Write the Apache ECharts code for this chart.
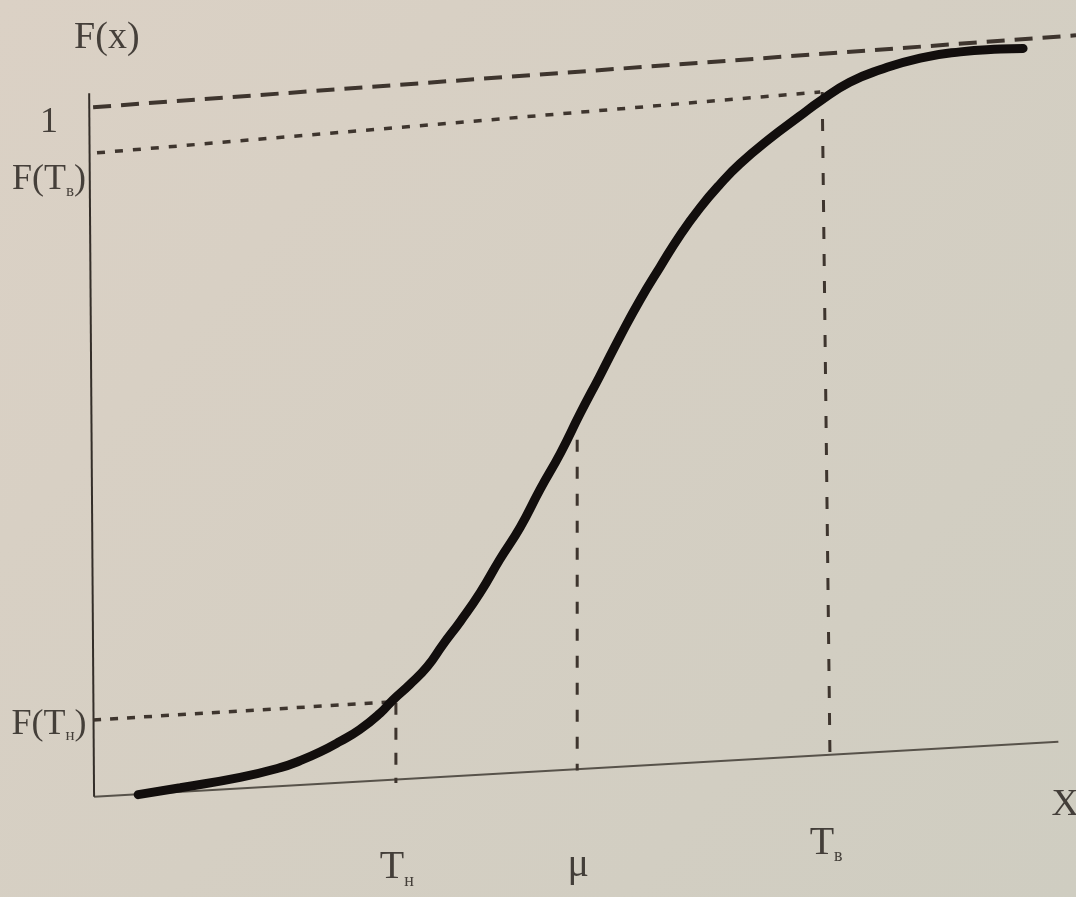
<!DOCTYPE html>
<html>
<head>
<meta charset="utf-8">
<script src="https://cdn.jsdelivr.net/npm/echarts@6/dist/echarts.min.js"></script>
<style>
  html, body { margin: 0; padding: 0; }
  #chart { width: 1076px; height: 897px; }
</style>
</head>
<body>
<div id="chart"></div>
<script>
// S-shaped distribution function F(x), read off a photo of a textbook page
// (the page is a little skewed in the photo, so the axes are not level)
var curveX = [4.5, 8.8, 14.9, 19.0, 21.0, 23.1, 25.1, 27.1, 29.2, 30.5, 32.2, 34.0, 35.6, 37.4, 39.4, 41.4, 43.5,
              45.5, 47.6, 49.6, 51.6, 53.7, 55.7, 57.8, 59.8, 61.8, 63.9, 65.9, 69.0, 72.0, 74.1, 77.1, 80.2,
              84.3, 88.4, 92.5, 94.8];
var curveY = [0.003, 0.013, 0.028, 0.042, 0.052, 0.065, 0.080, 0.097, 0.121, 0.140, 0.162, 0.188, 0.220, 0.254, 0.295, 0.343, 0.390,
              0.444, 0.497, 0.554, 0.608, 0.666, 0.718, 0.767, 0.812, 0.851, 0.886, 0.915, 0.952, 0.984, 1.006, 1.033, 1.051,
              1.068, 1.077, 1.081, 1.082];

// axes (as drawn on the page)
var xAxisLine = [[0, 0], [98.4, 0.0795]];
var yAxisLine = [[0, 0], [-0.5, 1.017]];

// guide lines
var levelOne = [[-0.1, 0.997], [100.2, 1.101]];   // F = 1
var levelUpper = [[0.3, 0.931], [74.1, 1.019]];   // F(Tв)
var levelLower = [[-0.1, 0.111], [30.2, 0.137]];  // F(Tн)
var dropLower = [[30.8, 0.136], [30.8, 0.020]];   // Tн
var dropMean = [[49.3, 0.516], [49.3, 0.038]];    // μ
var dropUpper = [[74.3, 1.019], [75.1, 0.051]];   // Tв

// tick labels
var xTickNames = ['{a|T}{s|н}', '{a|μ}', '{a|T}{s|в}'];
var xTickValues = [30.9, 49.4, 74.7];
var yTickNames = ['{a|1}', '{a|F(T}{s|в}{a|)}', '{a|F(T}{s|н}{a|)}'];
var yTickValues = [0.975, 0.892, 0.105];

var axisSlope = xAxisLine[1][1] / xAxisLine[1][0];

var myChart = echarts.init(document.getElementById('chart'));

var ink = '#1f1a16';
var serif = '"Liberation Serif", "Times New Roman", serif';

function guide(data, dash, width) {
  return {
    type: 'line', data: data, symbol: 'none', silent: true,
    lineStyle: { color: '#3e352e', width: width, type: dash }
  };
}

function textPoints(points, size, subSize) {
  return {
    type: 'scatter', symbolSize: 0, silent: true,
    data: points,
    label: {
      show: true, position: 'inside',
      formatter: function (p) { return p.name; },
      color: ink, fontFamily: serif,
      rich: {
        a: { fontSize: size, lineHeight: size + 4, fontFamily: serif, color: ink },
        s: { fontSize: subSize, lineHeight: subSize, verticalAlign: 'bottom', fontFamily: serif, color: ink }
      }
    }
  };
}

var xLabelPoints = xTickValues.map(function (v, i) {
  return { name: xTickNames[i], value: [v, v * axisSlope - (i === 1 ? 0.14 : 0.128)] };
});
var yLabelPoints = yTickValues.map(function (v, i) {
  return { name: yTickNames[i], value: [-4.6, v] };
});

option = {
  animation: false,
  backgroundColor: {
    type: 'linear', x: 0, y: 0, x2: 1, y2: 1,
    colorStops: [{ offset: 0, color: '#dbd1c5' }, { offset: 1, color: '#cfcdc1' }]
  },
  grid: { left: 0, right: 0, top: 0, bottom: 0 },
  xAxis: { type: 'value', min: -9.6, max: 100.2, show: false },
  yAxis: { type: 'value', min: -0.145, max: 1.152, show: false },
  series: [
    { type: 'line', data: xAxisLine, symbol: 'none', silent: true, lineStyle: { color: '#57524a', width: 2 } },
    { type: 'line', data: yAxisLine, symbol: 'none', silent: true, lineStyle: { color: '#342e29', width: 2 } },
    guide(levelOne, [18, 10], 4),
    guide(levelUpper, [8, 10], 3.5),
    guide(levelLower, [8, 9], 3.5),
    guide(dropLower, [12, 13], 3),
    guide(dropMean, [12, 15], 3),
    guide(dropUpper, [12, 15], 3),
    {
      type: 'line', symbol: 'none', silent: true,
      smooth: 0.5,
      data: curveX.map(function (x, i) { return [x, curveY[i]]; }),
      lineStyle: { color: '#120e0d', width: 9, cap: 'round' }
    },
    textPoints(xLabelPoints, 40, 18),
    textPoints(yLabelPoints, 36, 17),
    textPoints([{ name: '{a|F(x)}', value: [1.3, 1.097] }, { name: '{a|X}', value: [99.1, -0.012] }], 38, 16)
  ]
};

myChart.setOption(option);
</script>
</body>
</html>
